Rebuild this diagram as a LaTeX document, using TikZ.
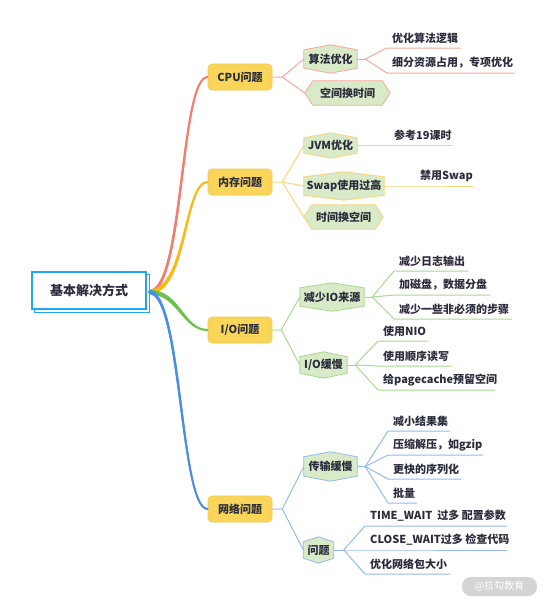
\documentclass[tikz,border=0pt]{standalone}
\usepackage{fontspec}
\setmainfont{Noto Sans CJK SC}
\usetikzlibrary{calc,backgrounds}
\pgfdeclarelayer{bottom}
\pgfsetlayers{bottom,background,main}
\definecolor{txt}{HTML}{2B2D3C}
\definecolor{rootc}{HTML}{1EA7F2}
\definecolor{yel}{HTML}{F9D55A}
\definecolor{yelb}{HTML}{F2C94C}
\definecolor{hexf}{HTML}{D8EAC8}
\definecolor{cpuM}{HTML}{F47C6A}
\definecolor{cpuL}{HTML}{F6A99B}
\definecolor{memM}{HTML}{FDB913}
\definecolor{memL}{HTML}{F9D47A}
\definecolor{ioM}{HTML}{6CC24A}
\definecolor{ioL}{HTML}{A9D98F}
\definecolor{netM}{HTML}{4A8FE0}
\definecolor{netL}{HTML}{94BBEC}
\definecolor{wmgray}{HTML}{D4D4D4}
\tikzset{
  lvone/.style={rounded corners=4pt, fill=yel, draw=yelb, line width=0.6pt,
    minimum width=64pt, minimum height=26pt, inner sep=0pt,
    font=\bfseries\fontsize{11}{13}\selectfont, text=txt},
  hexbox/.style={inner sep=0pt, font=\bfseries\fontsize{11}{13}\selectfont, text=txt},
  leaf/.style={anchor=west, inner sep=0pt, font=\bfseries\fontsize{11}{13}\selectfont, text=txt},
  mainline/.style={line width=2pt, line cap=round},
  subline/.style={line width=1pt},
}
% pointy-top hexagon around node
\newcommand\hexV[2]{%
  \begin{pgfonlayer}{background}
  \filldraw[fill=hexf, draw=#2, line width=0.8pt]
    (#1.north) -- ($(#1.north east)+(0,5)$) -- ($(#1.south east)+(0,-5)$)
    -- (#1.south) -- ($(#1.south west)+(0,-5)$) -- ($(#1.north west)+(0,5)$) -- cycle;
  \end{pgfonlayer}}
% pointy-side hexagon around node
\newcommand\hexH[2]{%
  \begin{pgfonlayer}{background}
  \filldraw[fill=hexf, draw=#2, line width=0.8pt]
    (#1.west) -- ($(#1.north west)+(8,0)$) -- ($(#1.north east)+(-8,0)$)
    -- (#1.east) -- ($(#1.south east)+(-8,0)$) -- ($(#1.south west)+(8,0)$) -- cycle;
  \end{pgfonlayer}}
% tapered branch: color, end node anchor, c1, c2, sign (1 up, -1 down)
\newcommand\branch[5]{%
  \fill[#1] ($(hub)+(0,-2.2)$) .. controls ($(hub)+({#3-1.6*#5},-2.2)$) and ($(#2)+({-#4-1.0*#5},-0.6)$) .. ($(#2)+(0,-0.6)$)
    -- ($(#2)+(0,0.6)$) .. controls ($(#2)+({-#4+1.0*#5},0.6)$) and ($(hub)+({#3+1.6*#5},2.2)$) .. ($(hub)+(0,2.2)$) -- cycle;
  \draw[mainline,#1] (hub) .. controls +(#3,0) and +(-#4,0) .. (#2);
}
% leaf: name, ux, uy, uxe, fork, color, text
\newcommand\leafitem[7]{%
  \coordinate (#1s) at (#2,#3);
  \coordinate (#1e) at (#4,#3);
  \node[leaf] (#1) at ($(#1s)+(5,-10)$) {#7};
  \draw[subline,#6] (#5) -- (#1s) -- (#1e);
}
\begin{document}
\begin{tikzpicture}[x=1pt,y=-1pt]
\useasboundingbox (0,0) rectangle (546,605);
\begin{pgfonlayer}{bottom}
\fill[white] (0,0) rectangle (546,605);
\end{pgfonlayer}

% root
\node[draw=rootc, fill=white, line width=1.4pt, minimum width=114pt, minimum height=37pt,
  inner sep=0pt, font=\bfseries\fontsize{13}{15}\selectfont, text=txt] (root) at (89,290.5) {基本解决方式};
\begin{pgfonlayer}{background}
\draw[rootc, fill=white, line width=1.4pt] ($(root.north west)+(3,3)$) rectangle ($(root.south east)+(3,3)$);
\end{pgfonlayer}
\coordinate (hub) at (149,292);

% level 1
\node[lvone] (cpu) at (240,77) {CPU问题};
\node[lvone] (mem) at (240,182) {内存问题};
\node[lvone] (io) at (240,330) {I/O问题};
\node[lvone] (net) at (240,509) {网络问题};

\branch{cpuM}{cpu.west}{35}{28}{1}
\branch{memM}{mem.west}{38}{24}{1}
\branch{ioM}{io.west}{30}{25}{-1}
\branch{netM}{net.west}{33}{28}{-1}

% level 2
\node[hexbox, minimum width=53pt, minimum height=28pt] (sf) at (330.5,59) {算法优化};
\node[hexbox, minimum width=85pt, minimum height=24pt] (kj) at (347.5,93) {空间换时间};
\node[hexbox, minimum width=53pt, minimum height=25pt] (jvm) at (330.5,145.5) {JVM优化};
\node[hexbox, minimum width=80pt, minimum height=28pt] (swap) at (344,186) {Swap使用过高};
\node[hexbox, minimum width=79pt, minimum height=24pt] (sj) at (343.5,217) {时间换空间};
\node[hexbox, minimum width=64pt, minimum height=28pt] (jsio) at (332,297) {减少IO来源};
\node[hexbox, minimum width=47pt, minimum height=26pt] (iohm) at (323.5,365) {I/O缓慢};
\node[hexbox, minimum width=53pt, minimum height=29pt] (cs) at (330.5,466.5) {传输缓慢};
\node[hexbox, minimum width=30pt, minimum height=26pt] (wt) at (318.5,550) {问题};

\hexV{sf}{cpuL}
\hexH{kj}{cpuL}
\hexV{jvm}{memL}
\hexV{swap}{memL}
\hexH{sj}{memL}
\hexV{jsio}{ioL}
\hexV{iohm}{ioL}
\hexV{cs}{netL}
\hexV{wt}{netL}

% level1 -> level2
\draw[subline, cpuL] (cpu.east) -- ++(10,0) coordinate (cpuf) -- (sf.west);
\draw[subline, cpuL] (cpuf) -- (kj.west);
\draw[subline, memL] (mem.east) -- ++(10,0) coordinate (memf) -- (jvm.west);
\draw[subline, memL] (memf) -- (swap.west);
\draw[subline, memL] (memf) -- (sj.west);
\draw[subline, ioL] (io.east) -- ++(9,0) coordinate (iof) -- (jsio.west);
\draw[subline, ioL] (iof) -- (iohm.west);
\draw[subline, netL] (net.east) -- ++(10,0) coordinate (netf) -- (cs.west);
\draw[subline, netL] (netf) -- (wt.west);

% forks
\draw[subline, cpuL] (sf.east) -- ++(8,0) coordinate (sff);
\draw[subline, ioL] (jsio.east) -- ++(8,0) coordinate (jsf);
\draw[subline, ioL] (iohm.east) -- ++(8,0) coordinate (ihf);
\draw[subline, netL] (cs.east) -- ++(8,0) coordinate (csf);
\draw[subline, netL] (wt.east) -- ++(10,0) coordinate (wtf);

% leaves
\leafitem{a1}{387}{48}{461}{sff}{cpuL}{优化算法逻辑}
\leafitem{a2}{387}{73}{515}{sff}{cpuL}{细分资源占用，专项优化}
\leafitem{b1}{389}{145.5}{453}{jvm.east}{memL}{参考19课时}
\leafitem{b2}{415}{186}{473}{swap.east}{memL}{禁用Swap}
\leafitem{c1}{394}{271}{468}{jsf}{ioL}{减少日志输出}
\leafitem{c2}{394}{295}{490}{jsf}{ioL}{加磁盘，数据分盘}
\leafitem{c3}{394}{319}{512}{jsf}{ioL}{减少一些非必须的步骤}
\leafitem{d1}{378}{341}{428}{ihf}{ioL}{使用NIO}
\leafitem{d2}{378}{366}{452}{ihf}{ioL}{使用顺序读写}
\leafitem{d3}{378}{390}{495}{ihf}{ioL}{给pagecache预留空间}
\leafitem{e1}{388}{431}{450}{csf}{netL}{减小结果集}
\leafitem{e2}{388}{455}{483}{csf}{netL}{压缩解压，如gzip}
\leafitem{e3}{388}{479}{461}{csf}{netL}{更快的序列化}
\leafitem{e4}{388}{503}{417}{csf}{netL}{批量}
\leafitem{f1}{365}{526}{507}{wtf}{netL}{TIME\_WAIT\ \ 过多 配置参数}
\leafitem{f2}{365}{550}{507}{wtf}{netL}{CLOSE\_WAIT过多 检查代码}
\leafitem{f3}{365}{574}{450}{wtf}{netL}{优化网络包大小}

% watermark
\node[fill=wmgray, rounded corners=9pt, minimum width=75pt, minimum height=19pt, inner sep=0pt,
  text=white, font=\fontsize{10}{12}\selectfont] (wm) at (499.5,586.5) {@拉勾教育};
\end{tikzpicture}
\end{document}
